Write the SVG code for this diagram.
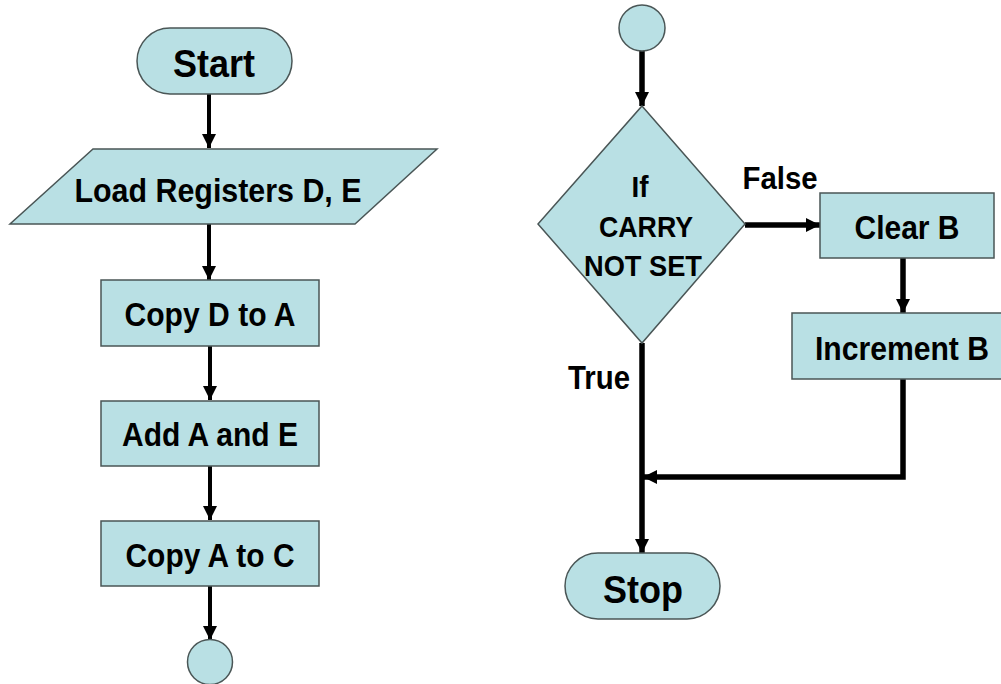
<svg xmlns="http://www.w3.org/2000/svg" width="1001" height="684" viewBox="0 0 1001 684">
  <style>
    .shape { fill: #b9e0e4; stroke: #4a5656; stroke-width: 1.5; }
    .label { font-family: "Liberation Sans", Arial, sans-serif; font-weight: bold; fill: #000; text-anchor: middle; }
    .flow { fill: none; stroke: #000; stroke-linecap: butt; stroke-linejoin: miter; }
    .thin { stroke-width: 4; }
    .thick { stroke-width: 5.5; }
  </style>
  <defs>
    <marker id="head" viewBox="0 0 14 14" refX="14" refY="7" markerWidth="14" markerHeight="14" markerUnits="userSpaceOnUse" orient="auto">
      <path d="M0,0 L14,7 L0,14 Z" fill="#000"/>
    </marker>
  </defs>
  <rect width="1001" height="684" fill="#fff"/>

  <!-- connectors -->
  <g id="connectors">
    <line class="flow thin" x1="209" y1="94" x2="209" y2="148" marker-end="url(#head)"/>
    <line class="flow thin" x1="209" y1="224" x2="209" y2="280" marker-end="url(#head)"/>
    <line class="flow thin" x1="210" y1="346" x2="210" y2="400" marker-end="url(#head)"/>
    <line class="flow thin" x1="210" y1="466" x2="210" y2="520" marker-end="url(#head)"/>
    <line class="flow thin" x1="210" y1="586" x2="210" y2="640" marker-end="url(#head)"/>

    <line class="flow thick" x1="642" y1="50" x2="642" y2="106" marker-end="url(#head)"/>
    <line class="flow thick" x1="745" y1="225" x2="820" y2="225" marker-end="url(#head)"/>
    <line class="flow thick" x1="903" y1="258" x2="903" y2="313" marker-end="url(#head)"/>
    <polyline class="flow thick" points="903,379 903,477 643,477" marker-end="url(#head)"/>
    <line class="flow thick" x1="642" y1="343" x2="642" y2="553" marker-end="url(#head)"/>
    <text class="label" x="780" y="189" font-size="32" textLength="75" lengthAdjust="spacingAndGlyphs">False</text>
    <text class="label" x="599" y="389" font-size="33" textLength="62" lengthAdjust="spacingAndGlyphs">True</text>
  </g>

  <!-- left chart -->
  <g id="start">
    <rect class="shape" x="137" y="28" width="155" height="66" rx="33" ry="33"/>
    <text class="label" x="214" y="77" font-size="38" textLength="82" lengthAdjust="spacingAndGlyphs">Start</text>
  </g>
  <g id="load-registers">
    <polygon class="shape" points="93,149 437,149 355,224 10,224"/>
    <text class="label" x="218" y="202" font-size="34" textLength="287" lengthAdjust="spacingAndGlyphs">Load Registers D, E</text>
  </g>
  <g id="copy-d-to-a">
    <rect class="shape" x="101" y="280" width="218" height="66"/>
    <text class="label" x="210" y="326" font-size="34" textLength="171" lengthAdjust="spacingAndGlyphs">Copy D to A</text>
  </g>
  <g id="add-a-and-e">
    <rect class="shape" x="101" y="401" width="218" height="65"/>
    <text class="label" x="210" y="446" font-size="34" textLength="176" lengthAdjust="spacingAndGlyphs">Add A and E</text>
  </g>
  <g id="copy-a-to-c">
    <rect class="shape" x="101" y="521" width="218" height="65"/>
    <text class="label" x="210" y="567" font-size="34" textLength="169" lengthAdjust="spacingAndGlyphs">Copy A to C</text>
  </g>
  <g id="connector-out">
    <circle class="shape" cx="210" cy="662" r="22.5"/>
  </g>

  <!-- right chart -->
  <g id="connector-in">
    <circle class="shape" cx="642" cy="28" r="23"/>
  </g>
  <g id="carry-test">
    <polygon class="shape" points="642,106 745,224 642,343 538,224"/>
    <text class="label" x="640" y="197" font-size="30" textLength="17" lengthAdjust="spacingAndGlyphs">If</text>
    <text class="label" x="646" y="237" font-size="30" textLength="94" lengthAdjust="spacingAndGlyphs">CARRY</text>
    <text class="label" x="643" y="276" font-size="30" textLength="118" lengthAdjust="spacingAndGlyphs">NOT SET</text>
  </g>
  <g id="clear-b">
    <rect class="shape" x="820" y="193" width="174" height="65"/>
    <text class="label" x="907" y="239" font-size="34" textLength="105" lengthAdjust="spacingAndGlyphs">Clear B</text>
  </g>
  <g id="increment-b">
    <rect class="shape" x="792" y="313" width="215" height="66"/>
    <text class="label" x="902" y="360" font-size="34" textLength="174" lengthAdjust="spacingAndGlyphs">Increment B</text>
  </g>
  <g id="stop">
    <rect class="shape" x="565" y="553" width="155" height="66" rx="33" ry="33"/>
    <text class="label" x="643" y="603" font-size="38" textLength="80" lengthAdjust="spacingAndGlyphs">Stop</text>
  </g>
</svg>
